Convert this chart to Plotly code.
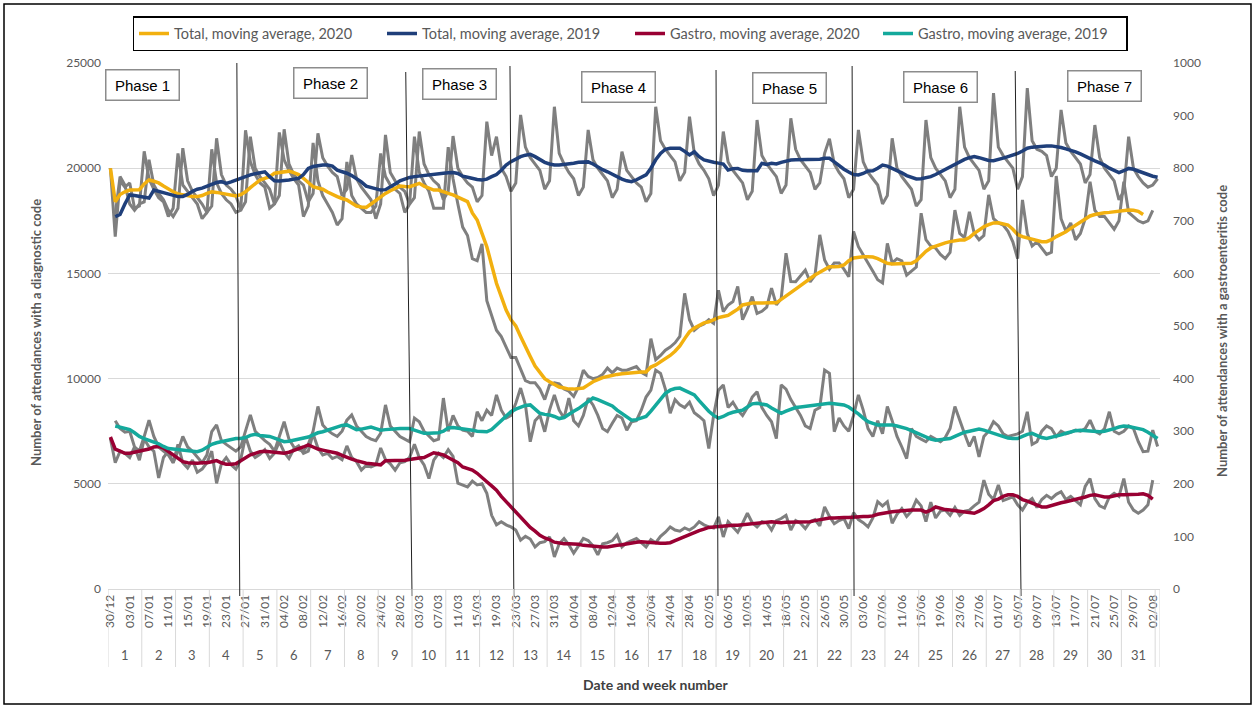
import plotly.graph_objects as go

# ---------------- DATA ----------------
DATE_LABELS = ["30/12","03/01","07/01","11/01","15/01","19/01","23/01","27/01","31/01","04/02",
               "08/02","12/02","16/02","20/02","24/02","28/02","03/03","07/03","11/03","15/03",
               "19/03","23/03","27/03","31/03","04/04","08/04","12/04","16/04","20/04","24/04",
               "28/04","02/05","06/05","10/05","14/05","18/05","22/05","26/05","30/05","03/06",
               "07/06","11/06","15/06","19/06","23/06","27/06","01/07","05/07","09/07","13/07",
               "17/07","21/07","25/07","29/07","02/08"]
WEEKS = list(range(1, 32))
PHASES = ["Phase 1", "Phase 2", "Phase 3", "Phase 4", "Phase 5", "Phase 6", "Phase 7"]

# daily totals 2020 (left axis)
total_2020 = [
    20000, 16750, 19400, 19100, 19300, 18100, 18200,
    20800, 19500, 19000, 18600, 18400, 17700, 18100,
    20700, 19200, 18900, 18600, 18300, 17600, 17900,
    20900, 19300, 18800, 18500, 18300, 17900, 18000,
    21800, 20300, 19700, 19300, 19100, 18100, 18300,
    21700, 20400, 19900, 19500, 19200, 17700, 18200,
    21200, 19400, 18700, 18300, 17900, 17300, 17600,
    20300, 18700, 18300, 18100, 17900, 17900, 18200,
    20700, 19600, 19200, 19000, 18800, 17900, 18300,
    21500, 19800, 19300, 18900, 18100, 18100, 18100,
    21000, 19500, 18300, 17200, 16800, 15700, 15600,
    16400, 13700, 13000, 12300, 12000, 11500, 11000,
    11000, 10400, 9900, 9800, 9800, 9500, 9000,
    9700, 9800, 9750, 9500, 9400, 9150, 9600,
    10400, 10100, 10000, 10050, 10200, 10500, 10270,
    10500, 10400, 10400, 10500, 10570, 10300, 10170,
    11900, 10900, 11100, 11350, 11500, 11700, 12000,
    14050, 12800, 12300, 12500, 12600, 12800, 12630,
    14200, 13180, 13500, 13660, 14380, 12800, 13300,
    13900, 13100, 13200, 13400, 14300, 13500, 13800,
    15960, 14610, 14600, 14900, 15160, 14600, 14900,
    16830, 15640, 15200, 15500, 15500, 15200, 14840,
    16990, 16270, 15900, 15480, 15100, 14700, 14550,
    16430, 15500, 15700, 15600, 14920, 15100, 15300,
    17860, 16600, 16300, 16200, 15900, 15700, 16000,
    18010, 16900, 16700, 17930, 16900, 16600, 16800,
    18730, 17600, 17400, 17300, 17000, 16500, 15700,
    18490, 16900, 16300, 16500, 16200, 15900, 16000,
    19630, 17600, 17000, 17400, 16600, 16900, 17600,
    19360, 18000, 17700, 17700, 17400, 17100, 17500,
    19360, 17900, 17700, 17500, 17400, 17500, 18000,
]

# daily totals 2019 (left axis)
total_2019 = [
    None,
    17800, 19600, 19200, 18300, 18000, 18300, 18400,
    20400, 19200, 18800, 18500, 18000, 17700, 18100,
    20950, 19400, 18900, 18600, 18300, 17900, 18200,
    21420, 19700, 19200, 19000, 18700, 18000, 18400,
    21500, 20000, 19600, 19300, 19000, 18300, 18700,
    21850, 20200, 19700, 19400, 19200, 18400, 18800,
    21660, 20500, 20100, 19800, 19600, 18700, 19000,
    20630, 19500, 19100, 18800, 18500, 17600, 18300,
    21580, 19800, 19400, 19100, 18900, 18300, 18600,
    21740, 20200, 19700, 19400, 19200, 18500, 18900,
    21530, 20000, 19600, 19300, 19100, 18400, 18700,
    22210, 20600, 21500, 20000, 19600, 18900, 19300,
    22530, 21000, 20500, 20200, 19900, 19000, 19400,
    22920, 20700, 20200, 19800, 19500, 18700, 19100,
    21820, 20400, 20000, 19700, 19400, 18600, 19000,
    20790, 19900, 19600, 19300, 19100, 18400, 18800,
    22920, 21300, 20900, 20600, 20300, 19400, 19800,
    22450, 20700, 20200, 19900, 19500, 18700, 19200,
    21740, 20300, 19900, 19600, 19300, 18500, 18900,
    22290, 20600, 20200, 19900, 19600, 18800, 19200,
    22370, 20900, 20400, 20100, 19800, 19000, 19300,
    20710, 21400, 20200, 19800, 19500, 18600, 19000,
    21820, 20300, 19800, 19500, 19200, 18300, 18700,
    21420, 20000, 19600, 19300, 19000, 18200, 18500,
    22290, 20500, 20000, 19700, 19400, 18600, 19000,
    22920, 21000, 20500, 20200, 19900, 19000, 19400,
    23570, 21000, 20600, 20300, 20000, 19000, 19600,
    23810, 21300, 20900, 20800, 20600, 19600, 20000,
    22770, 21200, 20800, 20500, 20200, 19300, 19700,
    22050, 20500, 20000, 19700, 19400, 18500, 18900,
    21500, 20000, 19600, 19300, 19100, 19200, 19500,
]

# daily gastroenteritis 2020 (right axis)
gastro_2020 = [
    286, 240, 262, 258, 250, 270, 245,
    285, 270, 262, 211, 250, 262, 240,
    275, 240, 230, 245, 222, 228, 240,
    262, 201, 238, 250, 236, 228, 246,
    290, 262, 250, 256, 265, 248, 258,
    280, 260, 248, 266, 272, 258, 262,
    295, 268, 255, 258, 248, 252, 246,
    272, 250, 242, 226, 235, 232, 236,
    268, 246, 238, 226, 240, 242, 250,
    275, 250, 236, 210, 245, 258, 250,
    265, 252, 201, 198, 194, 205, 198,
    200, 182, 140, 122, 128, 122, 118,
    112, 93, 100, 95, 80, 88, 90,
    99, 61, 86, 96, 84, 68, 82,
    96, 92, 82, 65, 86, 88, 92,
    103, 80, 88, 92, 96, 88, 80,
    94, 88, 100, 108, 118, 112, 110,
    116, 112, 118, 128, 122, 118, 116,
    137, 99, 128, 118, 108, 125, 144,
    126, 118, 128, 126, 112, 130, 134,
    140, 112, 130, 125, 115, 128, 132,
    120, 156, 138, 124, 130, 134, 115,
    145, 132, 126, 118, 135, 166, 158,
    166, 125, 142, 153, 138, 148, 169,
    158, 128, 165, 135, 148, 150, 140,
    155, 140, 148, 150, 158, 165, 207,
    180, 170, 198, 168, 172, 175, 160,
    150, 165, 172, 155, 170, 178, 172,
    180, 185, 170, 176, 168, 160, 195,
    210, 172, 158, 154, 175, 182, 176,
    210, 165, 150, 144, 150, 160, 207,
]

# daily gastroenteritis 2019 (right axis)
gastro_2019 = [
    None,
    320, 305, 298, 300, 270, 262, 290,
    321, 290, 270, 262, 255, 240, 262,
    290, 270, 262, 250, 240, 255, 299,
    312, 282, 275, 268, 262, 270, 300,
    331, 300, 290, 282, 275, 262, 290,
    318, 285, 270, 265, 262, 275, 300,
    347, 312, 302, 295, 290, 300, 321,
    331, 310, 300, 290, 285, 282, 296,
    350, 310, 300, 290, 285, 280, 325,
    318, 300, 290, 282, 285, 363, 300,
    330, 310, 302, 300, 290, 337, 320,
    340, 330, 369, 340, 325, 330, 353,
    382, 350, 280, 320, 330, 299, 340,
    369, 340, 325, 363, 320, 310, 330,
    363, 350, 330, 305, 299, 315, 330,
    325, 302, 318, 320, 340, 365, 378,
    416, 410, 380, 334, 360, 350, 345,
    355, 335, 328, 320, 267, 330, 378,
    388, 345, 355, 340, 330, 345, 365,
    375, 345, 330, 318, 286, 388, 380,
    360, 345, 330, 310, 305, 340, 345,
    416, 410, 299, 325, 310, 300, 330,
    369, 340, 305, 290, 320, 295, 347,
    320, 290, 270, 248, 305, 290, 285,
    280, 290, 285, 280, 288, 305, 347,
    320, 295, 271, 290, 251, 290, 300,
    318, 310, 295, 290, 292, 295, 300,
    337, 275, 280, 300, 310, 305, 290,
    300, 295, 298, 302, 300, 305, 321,
    300, 295, 305, 337, 300, 295, 300,
    310, 305, 280, 261, 262, 302, 271,
]

# moving averages
ma_total_2020 = [
    20000, 18400, 18750, 18880, 18960, 18960, 18980, 19250, 19440, 19380,
    19300, 19150, 19000, 18880, 18780, 18730, 18700, 18660, 18650, 18700,
    18800, 18880, 18850, 18810, 18780, 18720, 18680, 18740, 18880, 19080,
    19280, 19440, 19520, 19600, 19760, 19800, 19830, 19860, 19790, 19700,
    19520, 19300, 19120, 19060, 19000, 18870, 18750, 18650, 18560, 18490,
    18350, 18200, 18160, 18140, 18300, 18480, 18650, 18800, 18930, 19050,
    19150, 19130, 19120, 19200, 19280, 19150, 19060, 18960, 18960, 18900,
    18800, 18730, 18620, 18490, 18410, 17870, 17540, 16900, 16270, 15400,
    14530, 13900, 13260, 12800, 12500, 12000, 11500, 11050, 10600, 10300,
    10000, 9850, 9700, 9600, 9550, 9500, 9500, 9520, 9550, 9700,
    9850, 9950, 10050, 10100, 10170, 10200, 10230, 10260, 10280, 10300,
    10310, 10310, 10550, 10650, 10800, 10950, 11100, 11300, 11550, 11900,
    12230, 12400, 12550, 12650, 12700, 12800, 12900, 12950, 13000, 13150,
    13300, 13500, 13550, 13590, 13590, 13580, 13580, 13600, 13600, 13750,
    13950, 14070, 14250, 14420, 14600, 14780, 14920, 15050, 15200, 15320,
    15320, 15330, 15400, 15600, 15730, 15780, 15790, 15790, 15780, 15700,
    15580, 15480, 15450, 15450, 15450, 15450, 15480, 15600, 15850, 16050,
    16210, 16300, 16400, 16450, 16510, 16560, 16590, 16590, 16700, 16900,
    17080, 17220, 17320, 17400, 17410, 17350, 17300, 17100, 16850, 16750,
    16680, 16620, 16560, 16510, 16510, 16600, 16750, 16850, 16980, 17140,
    17300, 17450, 17600, 17730, 17800, 17850, 17880, 17900, 17930, 17950,
    17980, 18010, 18000, 17950, 17800,
]

ma_total_2019 = [
    None, 17700, 17800, 18300, 18730, 18700, 18650, 18600, 18580, 18960,
    18900, 18850, 18780, 18700, 18650, 18660, 18750, 18900, 19000, 19050,
    19150, 19250, 19320, 19360, 19280, 19350, 19440, 19520, 19600, 19680,
    19740, 19790, 19830, 19600, 19400, 19390, 19400, 19440, 19480, 19520,
    19700, 19990, 20080, 20130, 20150, 20150, 20100, 19910, 19850, 19760,
    19650, 19520, 19350, 19150, 19090, 19000, 18960, 18980, 19100, 19250,
    19400, 19490, 19560, 19600, 19630, 19680, 19700, 19720, 19740, 19760,
    19780, 19790, 19750, 19620, 19570, 19500, 19460, 19440, 19480, 19600,
    19700, 19900, 20150, 20310, 20450, 20550, 20620, 20660, 20550, 20390,
    20280, 20200, 20150, 20150, 20170, 20200, 20240, 20280, 20310, 20300,
    20200, 20050, 19930, 19830, 19700, 19600, 19480, 19400, 19360, 19450,
    19550, 19680, 20000, 20400, 20700, 20900, 20950, 20950, 20950, 20800,
    20630, 20780, 20550, 20390, 20320, 20280, 20240, 20200, 19910, 19980,
    19990, 19900, 19880, 19880, 19880, 20230, 20180, 20230, 20200, 20280,
    20340, 20390, 20400, 20400, 20400, 20390, 20390, 20430, 20470, 20470,
    20300, 20100, 19950, 19820, 19700, 19680, 19750, 19870, 19880, 20000,
    20150, 20100, 20000, 19910, 19780, 19650, 19550, 19490, 19500, 19550,
    19600, 19700, 19820, 19950, 20070, 20180, 20300, 20420, 20500, 20550,
    20500, 20420, 20370, 20360, 20400, 20480, 20550, 20620, 20700, 20820,
    20950, 21000, 21030, 21050, 21060, 21060, 21030, 20980, 20920, 20870,
    20780, 20680, 20560, 20470, 20350, 20250, 20150, 20000, 19880, 19790,
    19880, 19990, 19950, 19880, 19790, 19700, 19620, 19570,
]

ma_gastro_2020 = [
    289, 266, 262, 258, 258, 260, 262, 264, 266, 270,
    271, 268, 262, 255, 248, 242, 240, 239, 239, 240,
    240, 242, 244, 240, 237, 237, 238, 244, 250, 255,
    258, 261, 262, 261, 260, 258, 258, 260, 264, 267,
    270, 274, 270, 266, 264, 262, 261, 258, 254, 250,
    247, 244, 241, 239, 238, 237, 236, 244, 244, 245,
    245, 245, 246, 248, 249, 250, 254, 259, 257, 255,
    250, 245, 240, 232, 229, 226, 220, 213, 204, 196,
    188, 176, 166, 155, 146, 136, 126, 117, 110, 102,
    97, 94, 89, 87, 86, 86, 86, 85, 83, 82,
    82, 81, 80, 80, 82, 83, 84, 86, 88, 89,
    90, 89, 88, 87, 87, 87, 88, 92, 96, 99,
    103, 108, 111, 114, 117, 118, 119, 120, 121, 121,
    121, 122, 123, 123, 125, 126, 127, 128, 127, 126,
    127, 127, 128, 127, 127, 128, 130, 132, 134, 135,
    135, 136, 136, 136, 137, 137, 138, 138, 139, 142,
    144, 145, 147, 148, 149, 150, 150, 150, 150, 146,
    150, 156, 153, 151, 150, 149, 148, 147, 146, 144,
    148, 153, 160, 168, 171, 176, 179, 179, 176, 170,
    167, 163, 159, 156, 156, 159, 162, 164, 166, 168,
    170, 172, 175, 178, 179, 177, 175, 175, 177, 179,
    179, 179, 180, 180, 181, 178, 171,
]

ma_gastro_2019 = [
    None, 310, 308, 306, 303, 297, 290, 286, 283, 280,
    276, 271, 267, 266, 265, 265, 263, 262, 261, 264,
    270, 275, 278, 280, 282, 285, 286, 286, 288, 292,
    294, 292, 291, 290, 287, 283, 280, 281, 283, 285,
    286, 289, 293, 297, 299, 302, 305, 308, 311, 312,
    308, 303, 304, 306, 308, 305, 302, 303, 304, 305,
    305, 305, 305, 302, 299, 296, 296, 296, 297, 300,
    306, 307, 306, 305, 304, 302, 300, 299, 299, 303,
    312, 320, 329, 337, 342, 346, 349, 350, 342, 334,
    332, 331, 328, 324, 326, 333, 338, 343, 350, 357,
    363, 360, 356, 353, 348, 340, 333, 326, 321, 322,
    325, 328, 338, 350, 362, 372, 378, 381, 382, 378,
    374, 369, 358, 347, 338, 330, 325, 328, 333, 336,
    338, 340, 346, 352, 353, 352, 350, 344, 338, 334,
    338, 342, 345, 346, 347, 348, 349, 350, 351, 353,
    352, 351, 350, 346, 340, 333, 325, 318, 315, 312,
    312, 312, 312, 310, 308, 305, 301, 297, 293, 289,
    285, 283, 284, 285, 286, 290, 294, 298, 300, 302,
    304, 302, 299, 296, 293, 290, 287, 286, 286, 290,
    294, 296, 292, 288, 286, 288, 291, 293, 296, 299,
    301, 302, 301, 300, 299, 299, 300, 302, 305, 308,
    310, 309, 307, 305, 303, 298, 292, 286,
]

# phase divider positions (day index) top/bottom, and phase label centers (pixels)
PHASE_LINES = [(26.2, 26.8), (61.2, 62.5), (82.8, 83.6), (125.5, 125.9), (153.7, 154.1), (187.5, 188.7)]
PHASE_LINE_TOPS = [63, 72, 66, 70, 66, 71]

# ---------------- LAYOUT HELPERS ----------------
PL, PR, PT, PB = 108, 1160, 63, 589
def px2x(px):
    return (px - PL) / (PR - PL)
def py2y(py):
    return (PB - py) / (PB - PT)

FONT = "Lato, Carlito, Calibri, sans-serif"
GRAY = "#7f7f7f"
TXT = "#595959"

fig = go.Figure()

def days(series):
    return list(range(len(series)))

# gray daily lines
fig.add_trace(go.Scatter(x=days(total_2020), y=total_2020, mode="lines",
                         line=dict(color=GRAY, width=3), showlegend=False, hoverinfo="skip"))
fig.add_trace(go.Scatter(x=days(total_2019), y=total_2019, mode="lines",
                         line=dict(color=GRAY, width=3), showlegend=False, hoverinfo="skip"))
fig.add_trace(go.Scatter(x=days(gastro_2020), y=gastro_2020, mode="lines", yaxis="y2",
                         line=dict(color=GRAY, width=3), showlegend=False, hoverinfo="skip"))
fig.add_trace(go.Scatter(x=days(gastro_2019), y=gastro_2019, mode="lines", yaxis="y2",
                         line=dict(color=GRAY, width=3), showlegend=False, hoverinfo="skip"))

# moving averages
fig.add_trace(go.Scatter(x=days(ma_total_2020), y=ma_total_2020, mode="lines",
                         name="Total, moving average, 2020", line=dict(color="#F2B00F", width=3.5)))
fig.add_trace(go.Scatter(x=days(ma_total_2019), y=ma_total_2019, mode="lines",
                         name="Total, moving average, 2019", line=dict(color="#1F3F7A", width=3.5)))
fig.add_trace(go.Scatter(x=days(ma_gastro_2020), y=ma_gastro_2020, mode="lines", yaxis="y2",
                         name="Gastro, moving average, 2020", line=dict(color="#990033", width=3.5)))
fig.add_trace(go.Scatter(x=days(ma_gastro_2019), y=ma_gastro_2019, mode="lines", yaxis="y2",
                         name="Gastro, moving average, 2019", line=dict(color="#14A99C", width=3.5)))

shapes = []
# phase dividers
for (x_top, x_bot), top in zip(PHASE_LINES, PHASE_LINE_TOPS):
    shapes.append(dict(type="line", xref="x", yref="paper", x0=x_top, x1=x_bot,
                       y0=py2y(top), y1=py2y(596), line=dict(color="#222222", width=1)))
# week separators in the axis label area
for k in range(0, 32):
    xb = 7 * k - 0.5
    shapes.append(dict(type="line", xref="x", yref="paper", x0=xb, x1=xb,
                       y0=0, y1=py2y(667), line=dict(color="#d9d9d9", width=1)))
shapes.append(dict(type="line", xref="x", yref="paper", x0=217.5, x1=217.5,
                   y0=0, y1=py2y(667), line=dict(color="#d9d9d9", width=1)))
# outer frame
shapes.append(dict(type="rect", xref="paper", yref="paper", x0=px2x(4), x1=px2x(1251),
                   y0=py2y(704), y1=py2y(4), line=dict(color="black", width=1.5)))

annotations = []
# week numbers
for w in WEEKS:
    annotations.append(dict(x=7 * (w - 1) + 3, y=py2y(655), xref="x", yref="paper",
                            xanchor="center", yanchor="middle",
                            text=str(w), showarrow=False, font=dict(family=FONT, size=13, color=TXT)))
# phase boxes
PHASE_CENTERS = [(142, 85), (330, 83), (459, 84), (618, 87), (789, 88), (940, 87), (1104, 86)]
for label, (cx, cy) in zip(PHASES, PHASE_CENTERS):
    annotations.append(dict(x=px2x(cx), y=py2y(cy), xref="paper", yref="paper", text=label,
                            xanchor="center", yanchor="middle",
                            showarrow=False, width=64, height=21, borderpad=4,
                            bordercolor="#8c8c8c", borderwidth=1.5, bgcolor="white",
                            font=dict(family="Liberation Sans, Arial, sans-serif", size=15, color="black")))
# axis titles
annotations.append(dict(x=px2x(36), y=py2y(333), xref="paper", yref="paper", textangle=-90,
                        xanchor="center", yanchor="middle",
                        text="Number of attendances with a diagnostic code", showarrow=False,
                        font=dict(family=FONT, size=13, color=TXT, weight="bold")))
annotations.append(dict(x=px2x(1222), y=py2y(331), xref="paper", yref="paper", textangle=-90,
                        xanchor="center", yanchor="middle",
                        text="Number of attendances with a gastroenteritis code", showarrow=False,
                        font=dict(family=FONT, size=13, color=TXT, weight="bold")))
annotations.append(dict(x=px2x(655), y=py2y(684), xref="paper", yref="paper",
                        xanchor="center", yanchor="middle",
                        text="Date and week number", showarrow=False,
                        font=dict(family=FONT, size=14, color="#404040", weight="bold")))

fig.update_layout(
    width=1255, height=707,
    margin=dict(l=PL, r=1255 - PR, t=PT, b=707 - PB, pad=0),
    paper_bgcolor="white", plot_bgcolor="white",
    font=dict(family=FONT, size=12, color=TXT),
    xaxis=dict(range=[-0.5, 217.5], tickmode="array", tickvals=list(range(0, 217, 4)),
               ticktext=DATE_LABELS, tickangle=-90, showgrid=False, zeroline=False,
               showline=True, linecolor="#d9d9d9", linewidth=1, ticks="",
               tickfont=dict(family=FONT, size=12, color=TXT)),
    yaxis=dict(range=[0, 25000], dtick=5000, tickformat="d", showgrid=True, gridcolor="#d9d9d9",
               gridwidth=1, zeroline=False, showline=False, ticks="", ticklabelstandoff=6,
               tickfont=dict(family=FONT, size=12, color=TXT)),
    yaxis2=dict(range=[0, 1000], dtick=100, tickformat="d", overlaying="y", side="right",
                showgrid=False, zeroline=False, showline=False, ticks="", ticklabelstandoff=12,
                tickfont=dict(family=FONT, size=12, color=TXT)),
    legend=dict(orientation="h", x=px2x(630), xanchor="center", y=py2y(16), yanchor="top",
                bordercolor="black", borderwidth=1.5, bgcolor="white",
                font=dict(family=FONT, size=14.5, color=TXT),
                entrywidth=203, entrywidthmode="pixels", itemwidth=30),
    shapes=shapes, annotations=annotations,
    showlegend=True,
)

fig.write_html("out.html", config={"displayModeBar": False},
               post_script="document.body.style.margin='0';")
